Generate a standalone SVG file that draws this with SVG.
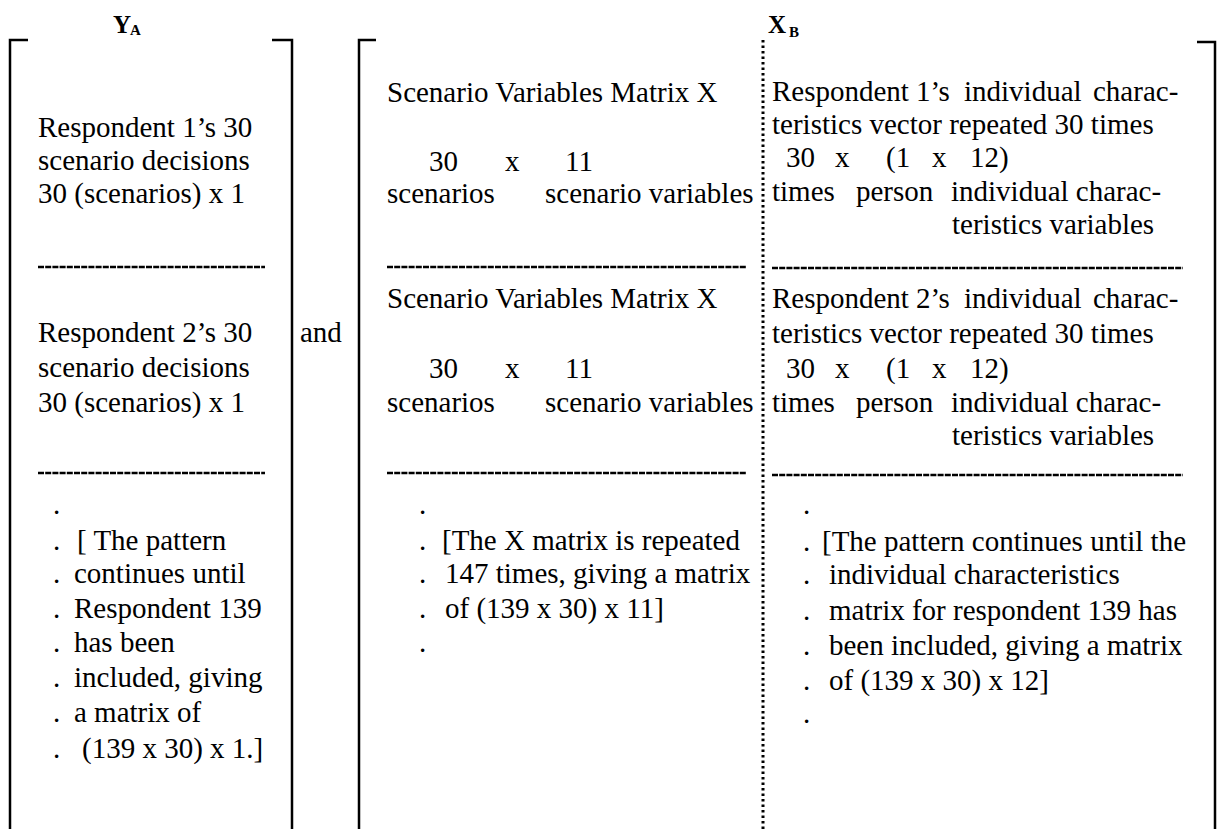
<svg xmlns="http://www.w3.org/2000/svg" width="1220" height="829" viewBox="0 0 1220 829">
<style>
  text { font-family: "Liberation Serif", "Times New Roman", serif; font-size: 29px; fill: #000; }
  .hd { font-weight: bold; font-size: 25px; }
  .sub { font-weight: bold; font-size: 15px; }
  .br { fill: none; stroke: #000; stroke-width: 2.5; }
  .sep { fill: none; stroke: #000; stroke-width: 2.5; stroke-dasharray: 6 1.2; }
  .dot { fill: none; stroke: #000; stroke-width: 3; stroke-dasharray: 2.5 3; }
</style>
<rect width="1220" height="829" fill="#fff"/>

<g id="headers">
  <text class="hd" x="113" y="33">Y</text><text class="sub" x="130" y="35">A</text>
  <text class="hd" x="768" y="33">X</text><text class="sub" x="789" y="37">B</text>
</g>

<g id="brackets">
  <path class="br" d="M28,40 H10 V829"/>
  <path class="br" d="M272,40 H292 V829"/>
  <path class="br" d="M376,40 H359 V829"/>
  <path class="br" d="M1197,42 H1215 V829"/>
  <line class="dot" x1="763" y1="40" x2="763" y2="829"/>
</g>

<g id="separators">
  <line class="sep" x1="38" y1="267" x2="265" y2="267"/>
  <line class="sep" x1="38" y1="473" x2="265" y2="473"/>
  <line class="sep" x1="387" y1="267" x2="747" y2="267"/>
  <line class="sep" x1="387" y1="473" x2="747" y2="473"/>
  <line class="sep" x1="772" y1="268" x2="1183" y2="268"/>
  <line class="sep" x1="772" y1="475" x2="1183" y2="475"/>
</g>

<g id="YA-column">
  <text x="38" y="137">Respondent 1’s 30</text>
  <text x="38" y="170">scenario decisions</text>
  <text x="38" y="203">30 (scenarios) x 1</text>
  <text x="38" y="342">Respondent 2’s 30</text>
  <text x="38" y="377">scenario decisions</text>
  <text x="38" y="412">30 (scenarios) x 1</text>
  <text x="53" y="514">.</text>
  <text x="53" y="550">.</text><text x="77" y="550">[ The pattern</text>
  <text x="53" y="583">.</text><text x="74" y="583">continues until</text>
  <text x="53" y="618">.</text><text x="74" y="618">Respondent 139</text>
  <text x="53" y="652">.</text><text x="74" y="652">has been</text>
  <text x="53" y="687">.</text><text x="74" y="687">included, giving</text>
  <text x="53" y="722">.</text><text x="74" y="722">a matrix of</text>
  <text x="53" y="758">.</text><text x="82" y="758">(139 x 30) x 1.]</text>
</g>

<g id="and">
  <text x="300" y="342">and</text>
</g>

<g id="X-column">
  <text x="387" y="102">Scenario Variables Matrix X</text>
  <text y="171"><tspan x="429">30</tspan><tspan x="505">x</tspan><tspan x="565">11</tspan></text>
  <text y="203"><tspan x="387">scenarios</tspan><tspan x="545">scenario variables</tspan></text>
  <text x="387" y="308">Scenario Variables Matrix X</text>
  <text y="378"><tspan x="429">30</tspan><tspan x="505">x</tspan><tspan x="565">11</tspan></text>
  <text y="412"><tspan x="387">scenarios</tspan><tspan x="545">scenario variables</tspan></text>
  <text x="419" y="514">.</text>
  <text x="419" y="550">.</text><text x="442" y="550">[The X matrix is repeated</text>
  <text x="419" y="583">.</text><text x="445" y="583">147 times, giving a matrix</text>
  <text x="419" y="618">.</text><text x="445" y="618">of (139 x 30) x 11]</text>
  <text x="419" y="652">.</text>
</g>

<g id="individual-column">
  <text y="101"><tspan x="772">Respondent</tspan><tspan x="916">1’s</tspan><tspan x="964">individual</tspan><tspan x="1093">charac-</tspan></text>
  <text x="772" y="134">teristics vector repeated 30 times</text>
  <text y="167"><tspan x="786">30</tspan><tspan x="835">x</tspan><tspan x="886">(1</tspan><tspan x="932">x</tspan><tspan x="970">12)</tspan></text>
  <text y="201"><tspan x="772">times</tspan><tspan x="856">person</tspan><tspan x="951">individual charac-</tspan></text>
  <text x="952" y="234">teristics variables</text>

  <text y="308"><tspan x="772">Respondent</tspan><tspan x="916">2’s</tspan><tspan x="964">individual</tspan><tspan x="1093">charac-</tspan></text>
  <text x="772" y="343">teristics vector repeated 30 times</text>
  <text y="378"><tspan x="786">30</tspan><tspan x="835">x</tspan><tspan x="886">(1</tspan><tspan x="932">x</tspan><tspan x="970">12)</tspan></text>
  <text y="412"><tspan x="772">times</tspan><tspan x="856">person</tspan><tspan x="951">individual charac-</tspan></text>
  <text x="952" y="445">teristics variables</text>

  <text x="803" y="514">.</text>
  <text x="803" y="551">.</text><text x="822" y="551">[The pattern continues until the</text>
  <text x="803" y="584">.</text><text x="829" y="584">individual characteristics</text>
  <text x="803" y="620">.</text><text x="829" y="620">matrix for respondent 139 has</text>
  <text x="803" y="655">.</text><text x="829" y="655">been included, giving a matrix</text>
  <text x="803" y="690">.</text><text x="829" y="690">of (139 x 30) x 12]</text>
  <text x="803" y="723">.</text>
</g>
</svg>
